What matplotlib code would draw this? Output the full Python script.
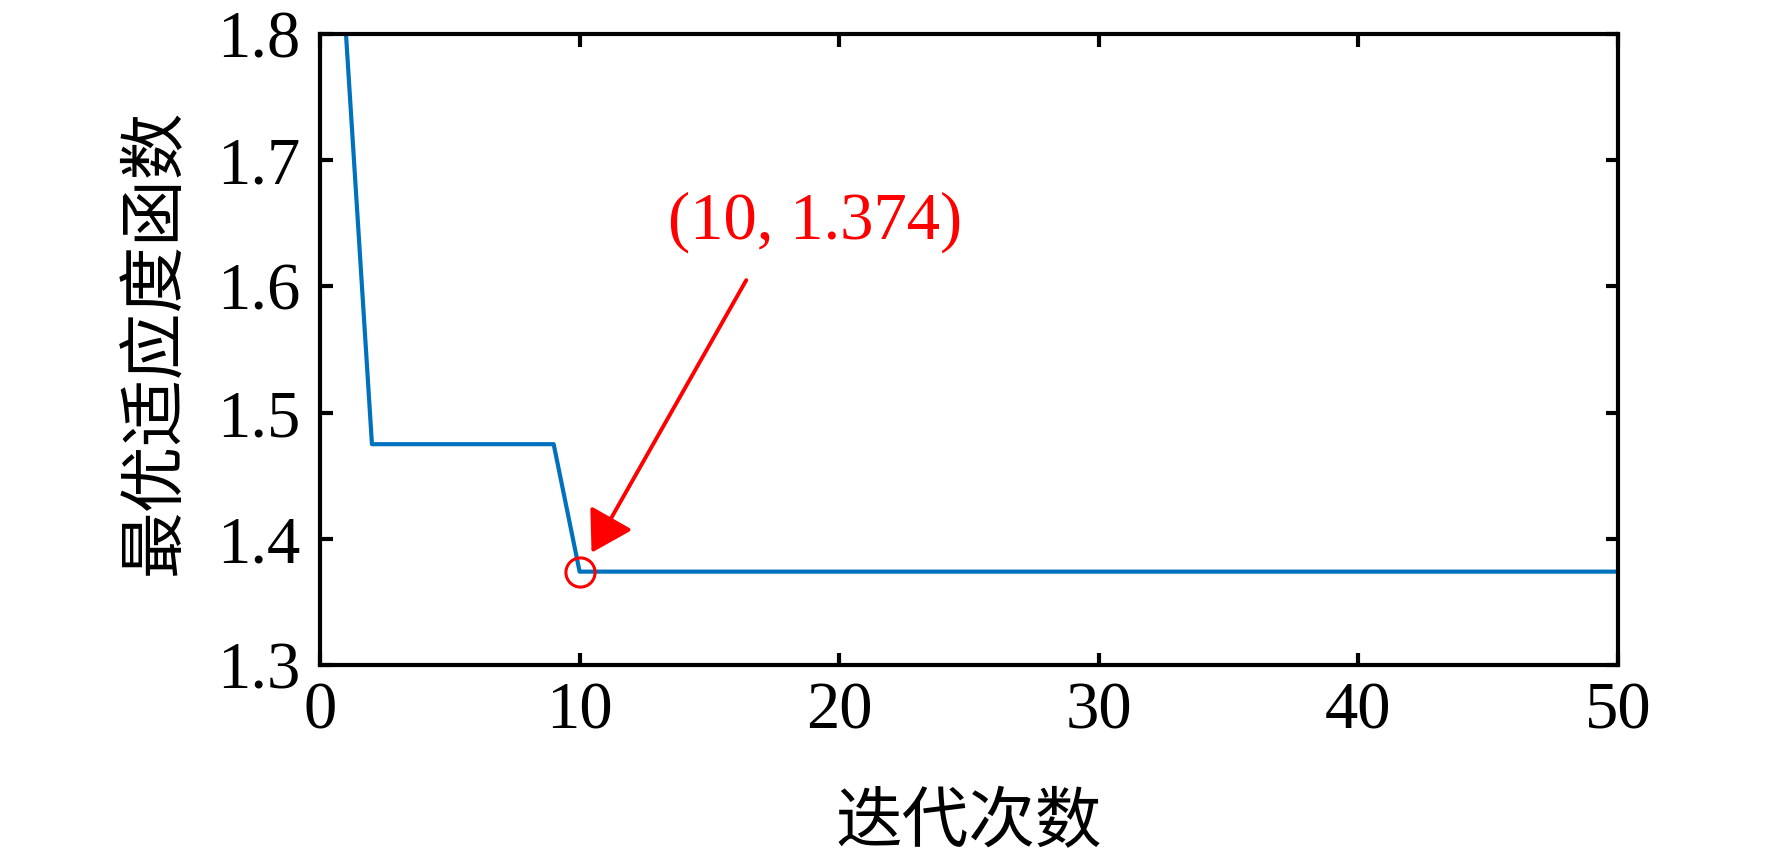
import matplotlib
matplotlib.use('Agg')
import numpy as np
import matplotlib.pyplot as plt

# iteration number and best fitness value at each iteration
iterations = list(range(1, 51))
best_fitness = [1.800,
                1.475, 1.475, 1.475, 1.475, 1.475, 1.475, 1.475, 1.475,
                1.374, 1.374, 1.374, 1.374, 1.374, 1.374, 1.374, 1.374, 1.374, 1.374,
                1.374, 1.374, 1.374, 1.374, 1.374, 1.374, 1.374, 1.374, 1.374, 1.374,
                1.374, 1.374, 1.374, 1.374, 1.374, 1.374, 1.374, 1.374, 1.374, 1.374,
                1.374, 1.374, 1.374, 1.374, 1.374, 1.374, 1.374, 1.374, 1.374, 1.374,
                1.374]

best_iter = 10
best_value = 1.374
label_text = '(10, 1.374)'

xticks = [0, 10, 20, 30, 40, 50]
yticks = [1.3, 1.4, 1.5, 1.6, 1.7, 1.8]

plt.rcParams['font.family'] = ['Liberation Serif', 'Noto Sans CJK SC']
plt.rcParams['font.size'] = 48

fig = plt.figure(figsize=(17.72, 8.64), dpi=100)
ax = fig.add_axes([0.1806, 0.2303, 0.7325, 0.7303])

ax.plot(iterations, best_fitness, color='#0072BD', lw=3.0)
ax.plot(best_iter, best_value, 'o', mfc='none', mec='red', ms=21, mew=2.2)

# arrow pointing at the optimum, with its label
ax.annotate('', xy=(10.46, 1.389), xytext=(16.42, 1.605),
            arrowprops=dict(arrowstyle='-|>,head_length=1.24,head_width=0.75',
                            mutation_scale=20, color='red', lw=2.8,
                            shrinkA=0, shrinkB=0))
ax.text(19.08, 1.651, label_text, color='red', fontsize=48,
        ha='center', va='center')

ax.set_xlim(0, 50)
ax.set_ylim(1.3, 1.8)
ax.set_xticks(xticks)
ax.set_yticks(yticks)
ax.set_xticklabels([str(t) for t in xticks])
ax.set_yticklabels(['%.1f' % t for t in yticks])

for s in ax.spines.values():
    s.set_linewidth(3.0)
ax.tick_params(direction='in', length=9, width=3.0, top=True, right=True)
ax.tick_params(axis='x', pad=12)
ax.tick_params(axis='y', pad=14)

ax.set_xlabel('迭代次数', fontsize=48)
ax.set_ylabel('最优适应度函数', fontsize=48)
ax.xaxis.set_label_coords(0.5, -0.254)
ax.xaxis.label.set_va('center')
ax.yaxis.set_label_coords(-0.126, 0.512)
ax.yaxis.label.set_va('center')

plt.savefig('out.png', dpi=100)
